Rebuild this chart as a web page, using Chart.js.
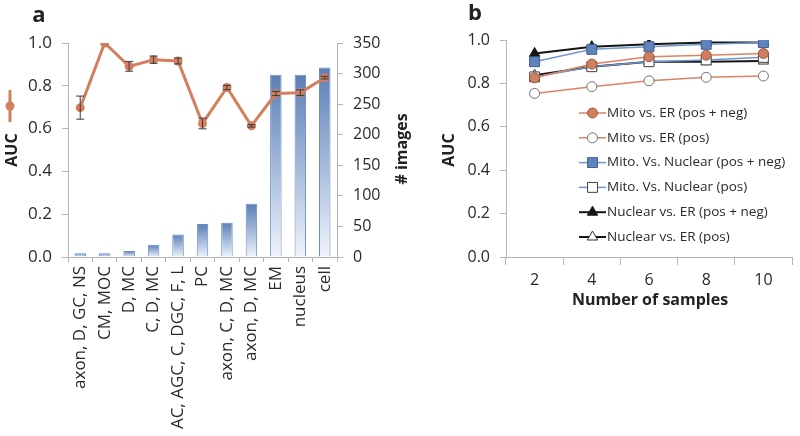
<!DOCTYPE html>
<html>
<head>
<meta charset="utf-8">
<script src="https://cdn.jsdelivr.net/npm/chart.js@4"></script>
<style>
  body { margin: 0; background: #fff; }
  #wrapA { position: absolute; left: 0; top: 0; width: 425px; height: 436px; }
  #wrapB { position: absolute; left: 425px; top: 0; width: 375px; height: 436px; }
</style>
</head>
<body>
<div id="wrapA"><canvas id="chartA"></canvas></div>
<div id="wrapB"><canvas id="chartB"></canvas></div>
<script>
// panel a
const categories = ["axon, D, GC, NS", "CM, MOC", "D, MC", "C, D, MC", "AC, AGC, C, DGC, F, L", "PC",
  "axon, C, D, MC", "axon, D, MC", "EM", "nucleus", "cell"];
const images = [6, 6, 10, 20, 37, 54, 56, 87, 298, 298, 310];
const auc = [0.698, 1.0, 0.891, 0.922, 0.916, 0.624, 0.792, 0.613, 0.764, 0.768, 0.838];
const aucErr = [0.054, 0, 0.023, 0.017, 0.014, 0.025, 0.01, 0.006, 0.01, 0.013, 0.006];

// panel b
const samples = ["2", "4", "6", "8", "10"];
const mitoErPosNeg = [0.826, 0.889, 0.923, 0.930, 0.938];
const mitoErPos = [0.754, 0.785, 0.812, 0.828, 0.834];
const mitoNucPosNeg = [0.900, 0.957, 0.969, 0.980, 0.988];
const mitoNucPos = [0.830, 0.877, 0.900, 0.908, 0.920];
const nucErPosNeg = [0.938, 0.969, 0.980, 0.988, 0.988];
const nucErPos = [0.838, 0.877, 0.900, 0.900, 0.903];

const FONT = "'Open Sans', sans-serif";
const AXIS = "#b4b4b4";
const TEXT = "#2a2a2a";
const ORANGE = "#d47e5e";

Chart.defaults.font.family = FONT;
Chart.defaults.animation = false;

function barFill(c) {
  const chart = c.chart;
  const ca = chart.chartArea;
  if (!ca || !chart.scales.yImg) return "#8fa8d0";
  const top = chart.scales.yImg.getPixelForValue(c.raw);
  const g = chart.ctx.createLinearGradient(0, top, 0, ca.bottom);
  g.addColorStop(0, "#5b7fb6");
  g.addColorStop(0.5, "#a3b8da");
  g.addColorStop(1, "#f0f4fb");
  return g;
}

const errorBars = {
  id: "errorBars",
  afterDatasetsDraw(chart) {
    const ctx = chart.ctx;
    const meta = chart.getDatasetMeta(1);
    const y = chart.scales.y;
    ctx.save();
    ctx.strokeStyle = "#3a3a3a";
    ctx.lineWidth = 1;
    meta.data.forEach((pt, i) => {
      if (!aucErr[i]) return;
      const y1 = y.getPixelForValue(auc[i] + aucErr[i]);
      const y2 = y.getPixelForValue(auc[i] - aucErr[i]);
      ctx.beginPath();
      ctx.moveTo(pt.x, y1); ctx.lineTo(pt.x, y2);
      ctx.moveTo(pt.x - 4, y1); ctx.lineTo(pt.x + 4, y1);
      ctx.moveTo(pt.x - 4, y2); ctx.lineTo(pt.x + 4, y2);
      ctx.stroke();
    });
    ctx.restore();
  }
};

const titlesA = {
  id: "titlesA",
  afterDraw(chart) {
    const ctx = chart.ctx;
    ctx.save();
    ctx.fillStyle = "#222";
    ctx.font = "bold 22px " + FONT;
    ctx.textAlign = "center";
    ctx.textBaseline = "middle";
    ctx.fillText("a", 39, 16);
    ctx.font = "bold 16px " + FONT;
    ctx.translate(12, 150);
    ctx.rotate(-Math.PI / 2);
    ctx.fillText("AUC", 0, 0);
    ctx.restore();
    ctx.save();
    ctx.fillStyle = "#222";
    ctx.font = "bold 16px " + FONT;
    ctx.textAlign = "center";
    ctx.textBaseline = "middle";
    ctx.translate(402, 149);
    ctx.rotate(-Math.PI / 2);
    ctx.fillText("# images", 0, 0);
    ctx.restore();
    // marker for the AUC series
    ctx.save();
    ctx.strokeStyle = ORANGE;
    ctx.fillStyle = ORANGE;
    ctx.lineWidth = 3;
    ctx.beginPath();
    ctx.moveTo(10, 90); ctx.lineTo(10, 122);
    ctx.stroke();
    ctx.beginPath();
    ctx.arc(10, 106, 4.5, 0, Math.PI * 2);
    ctx.fill();
    ctx.restore();
  }
};

new Chart(document.getElementById("chartA"), {
  type: "bar",
  data: {
    labels: categories,
    datasets: [{
      type: "bar",
      label: "# images",
      data: images,
      yAxisID: "yImg",
      backgroundColor: barFill,
      borderColor: "#6a8cc0",
      borderWidth: 1,
      barPercentage: 0.47,
      categoryPercentage: 1,
      order: 2
    }, {
      type: "line",
      label: "AUC",
      data: auc,
      yAxisID: "y",
      borderColor: ORANGE,
      backgroundColor: ORANGE,
      borderWidth: 3,
      pointRadius: 4.5,
      pointBorderWidth: 0,
      tension: 0,
      order: 1
    }]
  },
  options: {
    responsive: true,
    maintainAspectRatio: false,
    layout: { padding: { top: 43, left: 0, right: 0, bottom: 0 } },
    plugins: { legend: { display: false }, tooltip: { enabled: false } },
    scales: {
      x: {
        grid: { offset: true, drawOnChartArea: false, tickLength: 5, color: AXIS },
        border: { color: AXIS },
        ticks: { minRotation: 90, maxRotation: 90, autoSkip: false, color: TEXT, font: { size: 17 }, padding: 4 },
        afterFit: s => { s.height = 179; }
      },
      y: {
        position: "left",
        min: 0, max: 1,
        grid: { drawOnChartArea: false, tickLength: 6, color: AXIS },
        border: { color: AXIS },
        ticks: { stepSize: 0.2, color: TEXT, font: { size: 17 }, padding: 10, callback: v => v.toFixed(1) },
        afterFit: s => { s.width = 68; }
      },
      yImg: {
        position: "right",
        min: 0, max: 350,
        grid: { drawOnChartArea: false, tickLength: 6, color: AXIS },
        border: { color: AXIS },
        ticks: { stepSize: 50, color: TEXT, font: { size: 16 }, padding: 10 },
        afterFit: s => { s.width = 88; }
      }
    }
  },
  plugins: [errorBars, titlesA]
});

// panel b
const series = [
  { label: "Mito vs. ER (pos + neg)", data: mitoErPosNeg, line: "#dc8364", fill: "#cf7f5f", edge: "#9a5a40", style: "circle", r: 5, w: 1.5 },
  { label: "Mito vs. ER (pos)", data: mitoErPos, line: "#dc8364", fill: "#ffffff", edge: "#707070", style: "circle", r: 5, w: 1.5 },
  { label: "Mito. Vs. Nuclear (pos + neg)", data: mitoNucPosNeg, line: "#7096cc", fill: "#5f84bd", edge: "#3d5f90", style: "rect", r: 7, w: 1.5 },
  { label: "Mito. Vs. Nuclear (pos)", data: mitoNucPos, line: "#7096cc", fill: "#ffffff", edge: "#404040", style: "rect", r: 7, w: 1.5 },
  { label: "Nuclear vs. ER (pos + neg)", data: nucErPosNeg, line: "#151515", fill: "#151515", edge: "#151515", style: "triangle", r: 6, w: 2 },
  { label: "Nuclear vs. ER (pos)", data: nucErPos, line: "#151515", fill: "#ffffff", edge: "#303030", style: "triangle", r: 6, w: 2 }
];

const legendB = {
  id: "legendB",
  afterDraw(chart) {
    const ctx = chart.ctx;
    ctx.save();
    chart.data.datasets.forEach((ds, i) => {
      const y = 113 + i * 24.8;
      ctx.strokeStyle = ds.borderColor;
      ctx.lineWidth = ds.borderWidth;
      ctx.beginPath();
      ctx.moveTo(154, y); ctx.lineTo(181, y);
      ctx.stroke();
      ctx.fillStyle = ds.pointBackgroundColor;
      ctx.strokeStyle = ds.pointBorderColor;
      ctx.lineWidth = 1;
      Chart.helpers.drawPoint(ctx, { pointStyle: ds.pointStyle, radius: ds.pointRadius, rotation: 0, borderWidth: 1 }, 167.5, y);
      ctx.fillStyle = TEXT;
      ctx.font = "13.5px " + FONT;
      ctx.textAlign = "left";
      ctx.textBaseline = "middle";
      ctx.fillText(ds.label, 182, y);
    });
    ctx.fillStyle = "#222";
    ctx.textAlign = "center";
    ctx.textBaseline = "middle";
    ctx.font = "bold 22px " + FONT;
    ctx.fillText("b", 50, 14);
    ctx.font = "bold 16px " + FONT;
    ctx.fillText("Number of samples", 225, 300);
    ctx.translate(24, 150);
    ctx.rotate(-Math.PI / 2);
    ctx.fillText("AUC", 0, 0);
    ctx.restore();
  }
};

new Chart(document.getElementById("chartB"), {
  type: "line",
  data: {
    labels: samples,
    datasets: series.map(s => ({
      label: s.label,
      data: s.data,
      borderColor: s.line,
      borderWidth: s.w,
      pointStyle: s.style,
      pointRadius: s.r,
      pointBackgroundColor: s.fill,
      pointBorderColor: s.edge,
      pointBorderWidth: 1,
      tension: 0
    }))
  },
  options: {
    responsive: true,
    maintainAspectRatio: false,
    layout: { padding: { top: 40, left: 0, right: 3, bottom: 0 } },
    plugins: { legend: { display: false }, tooltip: { enabled: false } },
    scales: {
      x: {
        offset: true,
        grid: { offset: true, drawOnChartArea: false, tickLength: 8, color: AXIS },
        border: { color: AXIS },
        ticks: { color: TEXT, font: { size: 16 }, padding: 6 },
        afterFit: s => { s.height = 179; }
      },
      y: {
        min: 0, max: 1,
        grid: { drawOnChartArea: false, tickLength: 6, color: AXIS },
        border: { color: AXIS },
        ticks: { stepSize: 0.2, color: TEXT, font: { size: 16 }, padding: 10, callback: v => v.toFixed(1) },
        afterFit: s => { s.width = 81; }
      }
    }
  },
  plugins: [legendB]
});
</script>
</body>
</html>
